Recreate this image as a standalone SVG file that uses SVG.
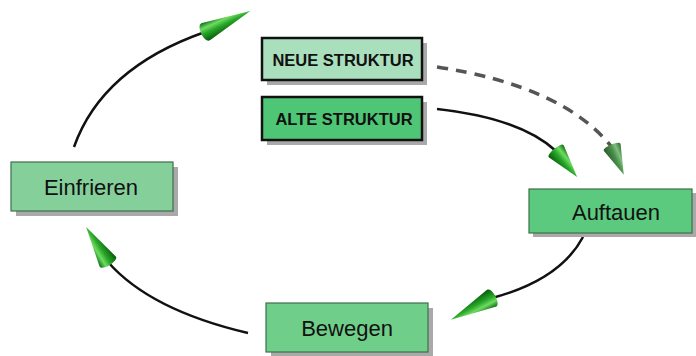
<svg xmlns="http://www.w3.org/2000/svg" width="696" height="356" viewBox="0 0 696 356">
<defs>
<style>
.shadow{fill:#a9a9a9}
.box{stroke:#3f6e4c;stroke-width:1.2}
.sbox{stroke:#111;stroke-width:2.5}
.lbl{font-family:"Liberation Sans",Arial,sans-serif;font-size:22px;fill:#111;text-anchor:middle}
.slbl{font-family:"Liberation Sans",Arial,sans-serif;font-size:16.5px;font-weight:bold;fill:#111;text-anchor:middle}
.line{fill:none;stroke:#111;stroke-width:2.5}
.dash{fill:none;stroke:#555;stroke-width:3.5;stroke-dasharray:11 8}
</style>
<linearGradient id="cg" x1="0" y1="0" x2="0" y2="1">
<stop offset="0" stop-color="#0e6e12"/>
<stop offset="0.3" stop-color="#6fdc62"/>
<stop offset="0.55" stop-color="#2aa82a"/>
<stop offset="1" stop-color="#075a0a"/>
</linearGradient>
<linearGradient id="cg2" x1="0" y1="0" x2="0" y2="1">
<stop offset="0" stop-color="#2e6a32"/>
<stop offset="0.3" stop-color="#7fbf7f"/>
<stop offset="0.55" stop-color="#4a8f4c"/>
<stop offset="1" stop-color="#2a5a2c"/>
</linearGradient>
<path id="cone" d="M0,-9.5 L1,-9.5 L48,0 L1,9.5 L0,9.5 A4,9.5 0 0 1 0,-9.5 Z"/>
</defs>

<g id="connectors">
<path class="line" d="M74,147 Q102,68 205,32"/>
<use href="#cone" fill="url(#cg)" transform="translate(205,32) rotate(-25) scale(1.04,1)"/>
<path class="dash" d="M437,67 Q562,86 611,146"/>
<use href="#cone" fill="url(#cg2)" transform="translate(612,147) rotate(67) scale(0.63,0.95)"/>
<path class="line" d="M437,109 Q520,118 556,151"/>
<use href="#cone" fill="url(#cg)" transform="translate(556,151) rotate(51) scale(0.7,1)"/>
<path class="line" d="M583,237 Q560,280 492,298"/>
<use href="#cone" fill="url(#cg)" transform="translate(492,298) rotate(152) scale(0.97,1)"/>
<path class="line" d="M248,333 Q150,310 108,262"/>
<use href="#cone" fill="url(#cg)" transform="translate(108,262) rotate(-122) scale(0.86,1)"/>
</g>

<g id="neue">
<rect class="shadow" x="267" y="43" width="160" height="42"/>
<rect class="sbox" x="262" y="38" width="160" height="42" fill="#aadfbd"/>
<text class="slbl" x="343" y="65.5">NEUE STRUKTUR</text>
</g>
<g id="alte">
<rect class="shadow" x="267" y="102" width="160" height="43"/>
<rect class="sbox" x="262" y="97" width="160" height="43" fill="#4ec676"/>
<text class="slbl" x="344" y="125">ALTE STRUKTUR</text>
</g>
<g id="einfrieren">
<rect class="shadow" x="16" y="167" width="162" height="49"/>
<rect class="box" x="11" y="162" width="162" height="49" fill="#84cf9a"/>
<text class="lbl" x="91" y="195">Einfrieren</text>
</g>
<g id="auftauen">
<rect class="shadow" x="533" y="193" width="163" height="44"/>
<rect class="box" x="529" y="189" width="163" height="44" fill="#5cca7e"/>
<text class="lbl" x="616" y="220">Auftauen</text>
</g>
<g id="bewegen">
<rect class="shadow" x="271" y="308" width="162" height="49"/>
<rect class="box" x="266" y="303" width="162" height="49" fill="#6fcf8a"/>
<text class="lbl" x="347" y="336">Bewegen</text>
</g>
</svg>
